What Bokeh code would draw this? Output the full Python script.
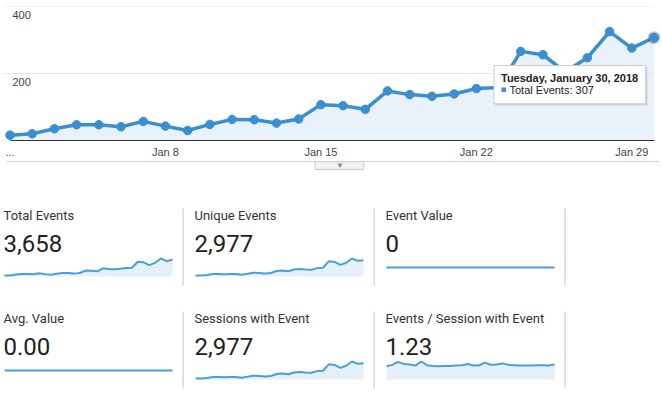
import datetime
from bokeh.plotting import figure
from bokeh.layouts import column, row
from bokeh.models import Range1d, Label, BoxAnnotation, FixedTicker
from bokeh.embed import file_html
from bokeh.resources import INLINE

# ---------------- data ----------------
days = list(range(1, 31))
total_events = [16, 20, 35, 47, 47, 41, 57, 43, 30, 48, 63, 62, 52, 64, 107,
                104, 93, 148, 137, 132, 139, 155, 158, 266, 256, 205, 247, 325, 276, 307]
unique_events = [14, 16, 23, 35, 36, 34, 37, 35, 26, 42, 54, 53, 43, 52, 80,
                 87, 76, 102, 109, 102, 100, 123, 128, 222, 213, 171, 201, 264, 230, 238]
sessions_with_event = [14, 16, 23, 35, 36, 34, 37, 35, 26, 42, 54, 53, 43, 52, 80,
                       87, 76, 102, 109, 102, 100, 123, 128, 222, 213, 171, 201, 264, 230, 238]
events_per_session = [1.14, 1.26, 1.52, 1.33, 1.29, 1.20, 1.55, 1.23, 1.17, 1.14,
                      1.17, 1.17, 1.20, 1.23, 1.33, 1.20, 1.23, 1.45, 1.26, 1.29,
                      1.39, 1.26, 1.23, 1.20, 1.20, 1.20, 1.23, 1.23, 1.20, 1.29]
event_value = [0] * 30
avg_value = [0] * 30

x_ticks = [1, 8, 15, 22, 29]
x_tick_labels = ["...", "Jan 8", "Jan 15", "Jan 22", "Jan 29"]
y_ticks = [200, 400]

card_titles = ["Total Events", "Unique Events", "Event Value",
               "Avg. Value", "Sessions with Event", "Events / Session with Event"]
card_values = ["3,658", "2,977", "0", "0.00", "2,977", "1.23"]
card_series = [total_events, unique_events, event_value,
               avg_value, sessions_with_event, events_per_session]

hover_date = datetime.date(2018, 1, 30)

# ---------------- style ----------------
MAIN_BLUE = "#3a8fd0"
MAIN_FILL = "#e9f1fa"
SPARK_BLUE = "#4a9fd8"
SPARK_FILL = "#e6f0fa"
GRID = "#e6e6e6"
AX_FONT = "Liberation Sans"
CARD_FONT = "Roboto"
BASE_FIX = 0.35   # lift of alphabetic baseline, in em

W = 662
MAIN_H = 160
FRAME_L, FRAME_R = 3, 660          # frame in page px
PAD = 6.5                           # px between frame edge and first/last day
frame_w = FRAME_R - FRAME_L
px_day = (frame_w - 2 * PAD) / (len(days) - 1)
x0 = days[0] - PAD / px_day
x1 = days[-1] + PAD / px_day

p = figure(width=W, height=MAIN_H, output_backend="svg", toolbar_location=None,
           x_range=Range1d(x0, x1), y_range=Range1d(0, 400),
           y_axis_location=None,
           min_border_left=FRAME_L, min_border_right=W - FRAME_R,
           min_border_top=6, min_border_bottom=20)
p.outline_line_color = None
p.xgrid.visible = False
p.ygrid.visible = False
p.background_fill_color = "white"
p.border_fill_color = "white"

p.varea(x=days, y1=[0] * len(days), y2=total_events, fill_color=MAIN_FILL)
p.segment(x0=[x0] * len(y_ticks), x1=[days[-1]] * len(y_ticks), y0=y_ticks, y1=y_ticks,
          line_color=GRID, line_width=1)
p.line(days, total_events, line_color=MAIN_BLUE, line_width=3.5, line_join="round")
p.scatter(days, total_events, size=8.5, fill_color=MAIN_BLUE, line_color=MAIN_BLUE)
# hovered point
p.scatter([days[-1]], [total_events[-1]], size=13, fill_color="#4a5a6a", fill_alpha=0.3, line_color=None)
p.scatter([days[-1]], [total_events[-1]], size=9, fill_color=MAIN_BLUE, line_color=MAIN_BLUE)

ax = p.xaxis[0]
ax.ticker = FixedTicker(ticks=x_ticks)
ax.major_label_overrides = {t: l for t, l in zip(x_ticks, x_tick_labels)}
ax.bounds = (days[0], days[-1])
ax.axis_line_color = "#333333"
ax.axis_line_width = 1
ax.major_tick_line_color = None
ax.minor_tick_line_color = None
ax.major_tick_out = 0
ax.major_tick_in = 0
ax.minor_tick_out = 0
ax.minor_tick_in = 0
ax.major_label_standoff = 5
ax.major_label_text_font = AX_FONT
ax.major_label_text_font_size = "11px"
ax.major_label_text_color = "#444444"

for t in y_ticks:
    p.add_layout(Label(x=12 - FRAME_L, x_units="screen", y=t, y_offset=-12.5 + BASE_FIX * 11,
                       text=str(t), text_font=AX_FONT, text_font_size="11px",
                       text_color="#444444", text_baseline="alphabetic"))

# tooltip (screen units relative to frame: x from left, y from bottom)
FB = 140  # frame bottom in page px
def sx(px): return px - FRAME_L
def sy(py): return FB - py

p.add_layout(BoxAnnotation(left=sx(495), right=sx(647), bottom=sy(105), top=sy(67),
                           left_units="screen", right_units="screen",
                           bottom_units="screen", top_units="screen",
                           fill_color="#000000", fill_alpha=0.12, line_color=None))
p.add_layout(BoxAnnotation(left=sx(493.5), right=sx(645), bottom=sy(103.3), top=sy(65),
                           left_units="screen", right_units="screen",
                           bottom_units="screen", top_units="screen",
                           fill_color="white", fill_alpha=1, line_color="#cccccc", line_alpha=1))
p.add_layout(Label(x=sx(500.5), y=sy(81) + BASE_FIX * 11, x_units="screen", y_units="screen",
                   text=hover_date.strftime("%A, %B %d, %Y"), text_font=AX_FONT,
                   text_font_size="11px", text_font_style="bold", text_color="#222222",
                   text_baseline="alphabetic"))
p.add_layout(BoxAnnotation(left=sx(501), right=sx(505.5), bottom=sy(91.5), top=sy(87),
                           left_units="screen", right_units="screen",
                           bottom_units="screen", top_units="screen",
                           fill_color=MAIN_BLUE, fill_alpha=1, line_color=None))
p.add_layout(Label(x=sx(509), y=sy(93.3) + BASE_FIX * 11, x_units="screen", y_units="screen",
                   text=f"Total Events: {total_events[-1]}", text_font=AX_FONT,
                   text_font_size="11px", text_color="#222222", text_baseline="alphabetic"))

# ---------------- strip with tab ----------------
STRIP_H = 35
strip = figure(width=W, height=STRIP_H, output_backend="svg", toolbar_location=None,
               x_range=Range1d(0, W), y_range=Range1d(0, STRIP_H),
               x_axis_type=None, y_axis_type=None, min_border=0)
strip.outline_line_color = None
strip.add_layout(BoxAnnotation(left=3, right=660, bottom=STRIP_H - 1.5, top=STRIP_H - 0.5,
                               fill_color="#d0d0d0", fill_alpha=1, line_color=None))
strip.add_layout(BoxAnnotation(left=314, right=363, bottom=STRIP_H - 9, top=STRIP_H - 1,
                               fill_color="#f2f2f2", fill_alpha=1, line_color="#cccccc", line_alpha=1))
strip.scatter([339], [STRIP_H - 4.5], marker="inverted_triangle", size=5,
              fill_color="#8a8a8a", line_color=None, level="overlay")

# ---------------- cards ----------------
CW = 191
SP_L, SP_R = 4, 172
sp_px_day = (SP_R - SP_L) / (len(days) - 1)
cx0 = days[0] - SP_L / sp_px_day
cx1 = days[-1] + (CW - SP_R) / sp_px_day


def make_card(title, val, series, H):
    m = max(series)
    if m > 0:
        k = m / (81 - 63)
        yr = Range1d(-(H - 81) * k, 81 * k)
    else:
        yr = Range1d(-(H - 72), 72)
    c = figure(width=CW, height=H, output_backend="svg", toolbar_location=None,
               x_range=Range1d(cx0, cx1), y_range=yr,
               x_axis_type=None, y_axis_type=None, min_border=0)
    c.outline_line_color = None
    if m > 0:
        c.varea(x=days, y1=[0] * len(days), y2=series, fill_color=SPARK_FILL)
    c.line(days, series, line_color=SPARK_BLUE, line_width=2)
    c.add_layout(BoxAnnotation(left=182, right=183.2, bottom=H - 90, top=H - 13,
                               left_units="screen", right_units="screen",
                               bottom_units="screen", top_units="screen",
                               fill_color="#cfcfcf", fill_alpha=1, line_color=None))
    c.add_layout(Label(x=3, y=H - 25 + BASE_FIX * 13, x_units="screen", y_units="screen", text=title,
                       text_font=CARD_FONT, text_font_size="13px", text_color="#333333",
                       text_baseline="alphabetic"))
    c.add_layout(Label(x=3, y=H - 56 + BASE_FIX * 24, x_units="screen", y_units="screen", text=val,
                       text_font=CARD_FONT, text_font_size="24px", text_color="#222222",
                       text_baseline="alphabetic"))
    return c


row1 = row(*[make_card(card_titles[i], card_values[i], card_series[i], 103) for i in range(3)])
row2 = row(*[make_card(card_titles[i], card_values[i], card_series[i], 95) for i in range(3, 6)])

layout = column(p, strip, row1, row2)

with open("out.html", "w") as f:
    f.write(file_html(layout, INLINE))
